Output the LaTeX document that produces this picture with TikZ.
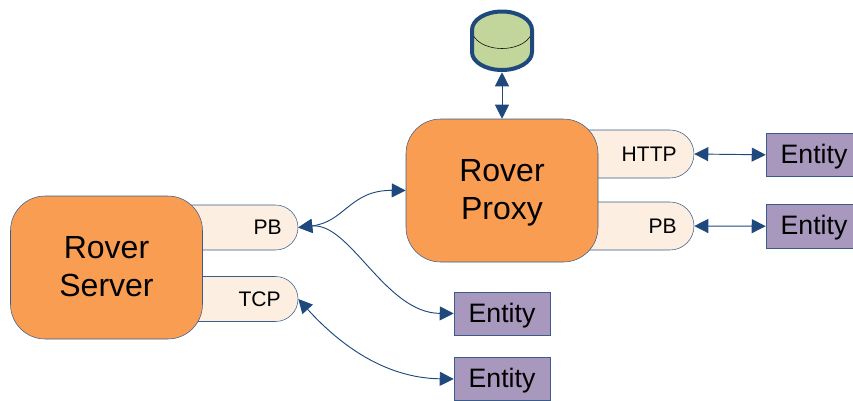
\documentclass[tikz,border=0pt]{standalone}
\usepackage{fontspec}
\setmainfont{Liberation Sans}
\usetikzlibrary{arrows.meta,shapes.misc}
\definecolor{linkblue}{HTML}{1F497D}
\definecolor{edgeblue}{HTML}{385D8A}
\definecolor{roverorange}{HTML}{F99D53}
\definecolor{tabcream}{HTML}{FDEEE2}
\definecolor{entitypurple}{HTML}{A898BE}
\definecolor{storegreen}{HTML}{C2D69B}
\tikzset{
    roverbox/.style={draw=edgeblue,fill=roverorange,rounded corners=26pt,minimum width=144pt,minimum height=107.25pt,inner sep=0pt},
    rovertext/.style={align=center,inner sep=0pt,font=\fontsize{24}{28.5}\selectfont},
    tabbox/.style={draw=edgeblue,fill=tabcream,rounded rectangle,rounded rectangle west arc=none,minimum width=100.5pt,minimum height=36pt,inner sep=0pt},
    tabtext/.style={anchor=east,inner sep=0pt,font=\fontsize{15.8}{18}\selectfont},
    entitybox/.style={draw=edgeblue,fill=entitypurple,minimum width=72pt,minimum height=32.5pt,inner sep=0pt,text depth=1.6pt,font=\fontsize{20}{23}\selectfont},
    link/.style={{Triangle[length=10.5pt,width=10.5pt]}-{Triangle[length=10.5pt,width=10.5pt]},draw=linkblue,line width=0.7pt}
}
\begin{document}
\begin{tikzpicture}[x=0.75pt,y=-0.75pt]
    \useasboundingbox (0,0) rectangle (853,400);
    % store
    \node [minimum width=48pt,minimum height=46.5pt,inner sep=0pt] (store) at (502,41) {};
    \fill [storegreen] (472,30) arc [start angle=180,end angle=360,x radius=30,y radius=18.5] -- (532,52) arc [start angle=0,end angle=180,x radius=30,y radius=18] -- cycle;
    \draw [black,thin] (472,30) arc [start angle=180,end angle=0,x radius=30,y radius=18.5];
    \draw [linkblue,line width=3pt] (472,30) arc [start angle=180,end angle=360,x radius=30,y radius=18.5] -- (532,52) arc [start angle=0,end angle=180,x radius=30,y radius=18] -- cycle;
    % tabs
    \node [tabbox] (httptab) at (627,154) {};
    \node [tabbox] (proxypb) at (627,226) {};
    \node [tabbox,minimum width=103.5pt,minimum height=33.75pt] (serverpb) at (229,227.5) {};
    \node [tabbox,minimum width=103.5pt,minimum height=33.75pt] (servertcp) at (229,299) {};
    % rover boxes
    \node [roverbox] (proxy) at (502,190.5) {};
    \node [roverbox] (server) at (106.5,267.5) {};
    % labels
    \node [rovertext] (proxylabel) at (502,193) {Rover\\Proxy};
    \node [rovertext] (serverlabel) at (106.5,267) {Rover\\Server};
    \node [tabtext] (httplabel) at (677,154.5) {HTTP};
    \node [tabtext] (proxypblabel) at (677,226.5) {PB};
    \node [tabtext] (serverpblabel) at (282,227) {PB};
    \node [tabtext] (servertcplabel) at (281,299) {TCP};
    % entities
    \node [entitybox] (entitya) at (814,154.8) {Entity};
    \node [entitybox] (entityb) at (814,226.2) {Entity};
    \node [entitybox] (entityc) at (502,313.5) {Entity};
    \node [entitybox] (entityd) at (502,379) {Entity};
    % links
    \draw [link] (store.south) -- (proxy.north);
    \draw [link] (httptab.east) -- (entitya.west);
    \draw [link] (proxypb.east) -- (entityb.west);
    \draw [link] (serverpb.east) .. controls (345,222) and (350,190) .. (proxy.west);
    \draw [link] (serverpb.east) .. controls (350,222) and (385,313) .. (entityc.west);
    \draw [link] (servertcp.east) .. controls (340,345) and (385,378) .. (entityd.west);
\end{tikzpicture}
\end{document}
